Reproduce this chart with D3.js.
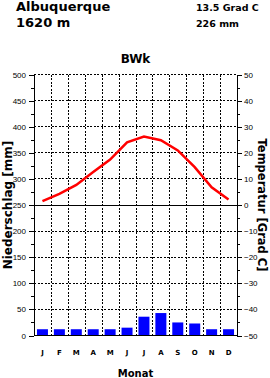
<!DOCTYPE html>
<html>
<head>
<meta charset="utf-8">
<script src="https://cdn.jsdelivr.net/npm/d3@7"></script>
<style>
  body { margin: 0; background: #fff; }
  svg { display: block; }
  .axis text { font-family: "Liberation Sans", Arial, sans-serif; font-size: 8px; fill: #000; }
  .axis path, .axis line { stroke: #000; shape-rendering: crispEdges; }
  .lbl { font-family: "DejaVu Sans", sans-serif; font-weight: bold; fill: #000; }
</style>
</head>
<body>
<div id="chart"></div>
<script>
const station = "Albuquerque";
const altitude = "1620 m";
const meanTemp = "13.5 Grad C";
const totalPrecip = "226 mm";
const climateClass = "BWk";

const months = ["J", "F", "M", "A", "M", "J", "J", "A", "S", "O", "N", "D"];
const precip = [12, 12, 12, 12, 12, 15, 36, 43, 25, 23, 12, 12];
const temp = [1.5, 4.3, 7.7, 12.6, 17.4, 24.0, 26.2, 24.8, 20.9, 14.5, 6.8, 2.1];

const precipTicks = d3.range(0, 501, 50);
const precipMinor = d3.range(25, 500, 50);
const tempTicks = d3.range(-50, 51, 10);
const tempMinor = d3.range(-45, 50, 10);

const W = 270, H = 378;
const mLeft = 34, mRight = 237, mTop = 74.5, mBottom = 335.5;

const svg = d3.select("#chart").append("svg")
    .attr("width", W)
    .attr("height", H);

const x = d3.scaleBand()
    .domain(d3.range(12))
    .range([mLeft, mRight])
    .padding(0);

const yP = d3.scaleLinear().domain([0, 500]).range([mBottom, mTop]);
const yT = d3.scaleLinear().domain([-50, 50]).range([mBottom, mTop]);

// grid
const grid = svg.append("g")
    .attr("stroke", "#000")
    .attr("stroke-width", 1)
    .attr("stroke-dasharray", "2,1.5")
    .attr("shape-rendering", "crispEdges");

grid.selectAll(".hg")
    .data(precipTicks.filter(d => d > 0 && d !== 250))
    .enter().append("line")
    .attr("x1", mLeft).attr("x2", mRight)
    .attr("y1", d => Math.floor(yP(d)) + 0.5)
    .attr("y2", d => Math.floor(yP(d)) + 0.5);

grid.selectAll(".vg")
    .data(d3.range(1, 12))
    .enter().append("line")
    .attr("x1", d => Math.round(x(d)) + 0.5)
    .attr("x2", d => Math.round(x(d)) + 0.5)
    .attr("y1", mTop).attr("y2", mBottom);

// bars
const bw = x.bandwidth() * 0.65;
svg.selectAll(".bar")
    .data(precip)
    .enter().append("rect")
    .attr("class", "bar")
    .attr("x", (d, i) => x(i) + (x.bandwidth() - bw) / 2)
    .attr("width", bw)
    .attr("y", d => yP(d))
    .attr("height", d => yP(0) - yP(d))
    .style("fill", "#0000ff");

// 0 °C line and base line
svg.append("line")
    .attr("x1", mLeft).attr("x2", mRight)
    .attr("y1", Math.floor(yT(0)) + 0.5).attr("y2", Math.floor(yT(0)) + 0.5)
    .attr("stroke", "#000").attr("shape-rendering", "crispEdges");
svg.append("line")
    .attr("x1", mLeft).attr("x2", mRight)
    .attr("y1", mBottom).attr("y2", mBottom)
    .attr("stroke", "#000").attr("shape-rendering", "crispEdges");

// temperature line
svg.append("path")
    .datum(temp)
    .attr("fill", "none")
    .attr("stroke", "#ff0000")
    .attr("stroke-width", 2.5)
    .attr("d", d3.line()
        .x((d, i) => x(i) + x.bandwidth() / 2)
        .y(d => yT(d)));

// axes
svg.append("g")
    .attr("class", "axis")
    .attr("transform", "translate(" + mLeft + ",0)")
    .call(d3.axisLeft(yP).tickValues(precipTicks).tickSize(5).tickSizeOuter(0).tickPadding(3));
svg.append("g")
    .attr("class", "axis")
    .attr("transform", "translate(" + mLeft + ",0)")
    .call(d3.axisLeft(yP).tickValues(precipMinor).tickSize(3).tickFormat(""))
    .select(".domain").remove();

svg.append("g")
    .attr("class", "axis")
    .attr("transform", "translate(" + mRight + ",0)")
    .call(d3.axisRight(yT).tickValues(tempTicks).tickSize(5).tickSizeOuter(0).tickPadding(2));
svg.append("g")
    .attr("class", "axis")
    .attr("transform", "translate(" + mRight + ",0)")
    .call(d3.axisRight(yT).tickValues(tempMinor).tickSize(3).tickFormat(""))
    .select(".domain").remove();

// month labels
svg.selectAll(".mon")
    .data(months)
    .enter().append("text")
    .attr("class", "lbl")
    .attr("x", (d, i) => x(i) + x.bandwidth() / 2)
    .attr("y", 355)
    .attr("text-anchor", "middle")
    .style("font-size", "7px")
    .text(d => d);

// texts
svg.append("text").attr("class", "lbl").attr("x", 16).attr("y", 11)
    .style("font-size", "13px").text(station);
svg.append("text").attr("class", "lbl").attr("x", 16).attr("y", 27)
    .style("font-size", "13px").text(altitude);
svg.append("text").attr("class", "lbl").attr("x", 196).attr("y", 11)
    .style("font-size", "9.5px").text(meanTemp);
svg.append("text").attr("class", "lbl").attr("x", 196).attr("y", 27)
    .style("font-size", "9.5px").text(totalPrecip);
svg.append("text").attr("class", "lbl").attr("x", (mLeft + mRight) / 2).attr("y", 63)
    .attr("text-anchor", "middle").style("font-size", "12px").text(climateClass);
svg.append("text").attr("class", "lbl").attr("x", (mLeft + mRight) / 2).attr("y", 377)
    .attr("text-anchor", "middle").style("font-size", "10px").text("Monat");

svg.append("text").attr("class", "lbl")
    .attr("transform", "translate(12," + (mTop + mBottom) / 2 + ") rotate(-90)")
    .attr("text-anchor", "middle").style("font-size", "12px")
    .text("Niederschlag [mm]");
svg.append("text").attr("class", "lbl")
    .attr("transform", "translate(258," + (mTop + mBottom) / 2 + ") rotate(90)")
    .attr("text-anchor", "middle").style("font-size", "11.5px")
    .text("Temperatur [Grad C]");
</script>
</body>
</html>
